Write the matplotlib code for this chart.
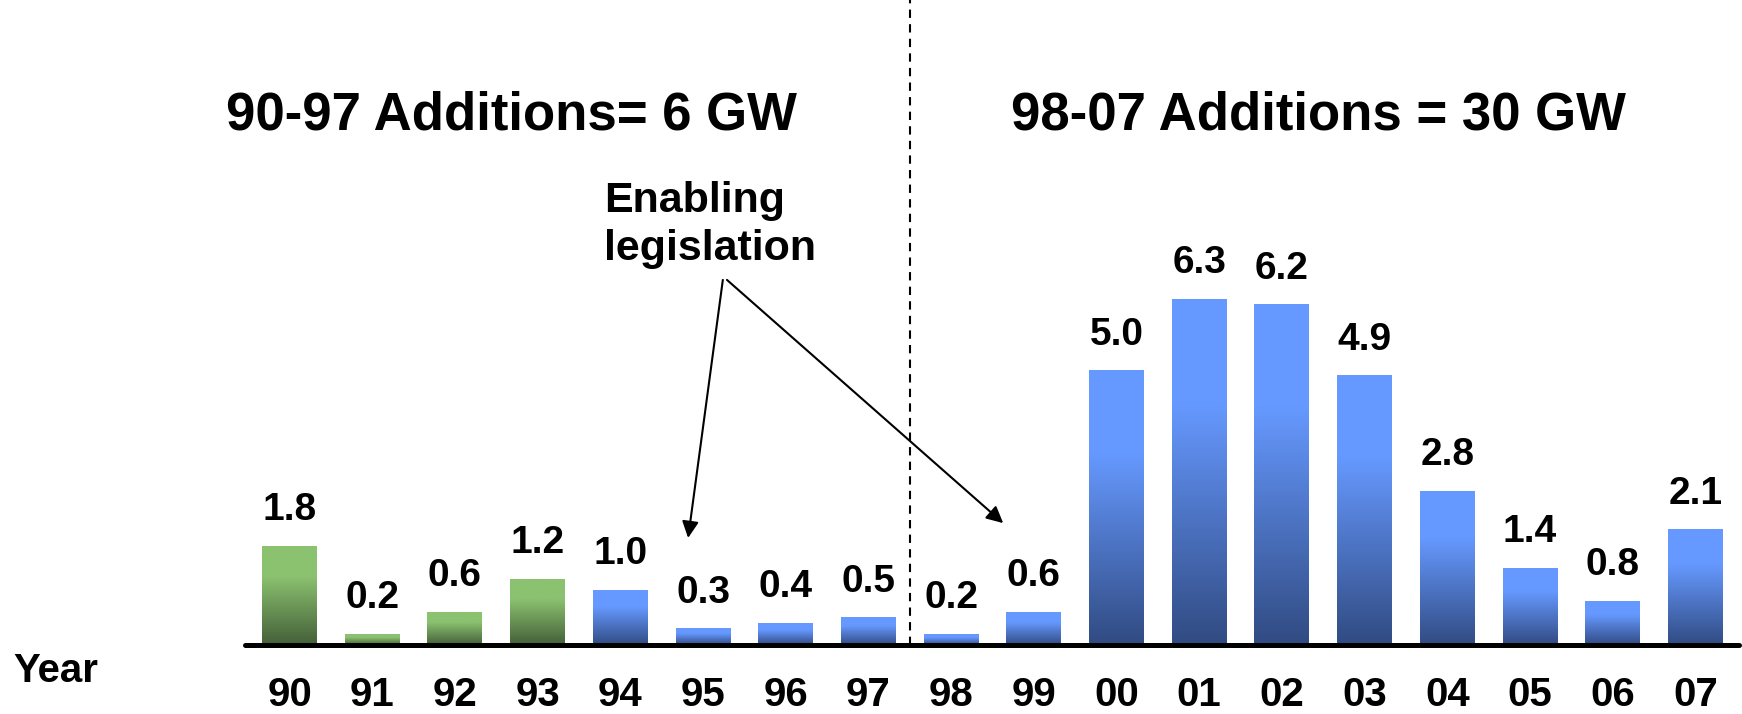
import numpy as np
import matplotlib
matplotlib.use('Agg')
import matplotlib.pyplot as plt
from matplotlib.colors import LinearSegmentedColormap

plt.rcParams['font.family'] = ['Liberation Sans', 'DejaVu Sans']
plt.rcParams['font.weight'] = 'bold'

years = ['90', '91', '92', '93', '94', '95', '96', '97', '98',
         '99', '00', '01', '02', '03', '04', '05', '06', '07']
additions = [1.8, 0.2, 0.6, 1.2, 1.0, 0.3, 0.4, 0.5, 0.2,
             0.6, 5.0, 6.3, 6.2, 4.9, 2.8, 1.4, 0.8, 2.1]
value_labels = ['1.8', '0.2', '0.6', '1.2', '1.0', '0.3', '0.4', '0.5', '0.2',
                '0.6', '5.0', '6.3', '6.2', '4.9', '2.8', '1.4', '0.8', '2.1']
bar_group = ['green'] * 4 + ['blue'] * 14

cmaps = {
    'green': LinearSegmentedColormap.from_list('g', [(0, '#445f38'), (0.7, '#8bc270'), (1, '#8bc270')]),
    'blue': LinearSegmentedColormap.from_list('b', [(0, '#314b82'), (0.7, '#6699ff'), (1, '#6699ff')]),
}

W, H = 1742, 714
fig = plt.figure(figsize=(W / 100, H / 100), dpi=100)
ax = fig.add_axes([0, 0, 1, 1])
x0, dx = 289.5, 82.7      # pixel centre of first bar, bar spacing
y0, dy = 645, 54.9        # baseline pixel, pixels per GW
ax.axis('off')

grad = np.linspace(0, 1, 256).reshape(-1, 1)
bw = 0.665
x = np.arange(len(years))
for i, v in enumerate(additions):
    ax.imshow(grad, cmap=cmaps[bar_group[i]], origin='lower', aspect='auto',
              extent=[x[i] - bw / 2, x[i] + bw / 2, 0, v], zorder=2)
    ax.text(x[i], v + 0.47, value_labels[i], ha='center', va='baseline', fontsize=28)
    ax.text(x[i], -0.91, years[i], ha='center', va='center', fontsize=29)

ax.text(-3.34, -0.67, 'Year', ha='left', va='baseline', fontsize=29)

ax.plot([-0.54, 17.53], [0, 0], color='black', lw=3.6, solid_capstyle='round', zorder=3)
ax.plot([7.5, 7.5], [0, y0 / dy], color='black', lw=1.5, ls=(0, (4, 3)), zorder=1)

ax.set_xlim(-x0 / dx, (W - x0) / dx)
ax.set_ylim(-(H - y0) / dy, y0 / dy)

fig.text(511.5 / W, 1 - 130 / H, '90-97 Additions= 6 GW', ha='center', va='baseline', fontsize=38)
fig.text(1318.5 / W, 1 - 130 / H, '98-07 Additions = 30 GW', ha='center', va='baseline', fontsize=38)
fig.text(604 / W, 1 - 212 / H, 'Enabling', ha='left', va='baseline', fontsize=31)
fig.text(604 / W, 1 - 260 / H, 'legislation', ha='left', va='baseline', fontsize=31)

arrow = dict(arrowstyle='-|>', color='black', lw=1.5, mutation_scale=25, shrinkA=0, shrinkB=0)
ax.annotate('', xy=(4.82, 1.95), xytext=(5.24, 6.65), arrowprops=arrow)
ax.annotate('', xy=(8.63, 2.22), xytext=(5.29, 6.65), arrowprops=arrow)

plt.savefig('out.png', dpi=100)
